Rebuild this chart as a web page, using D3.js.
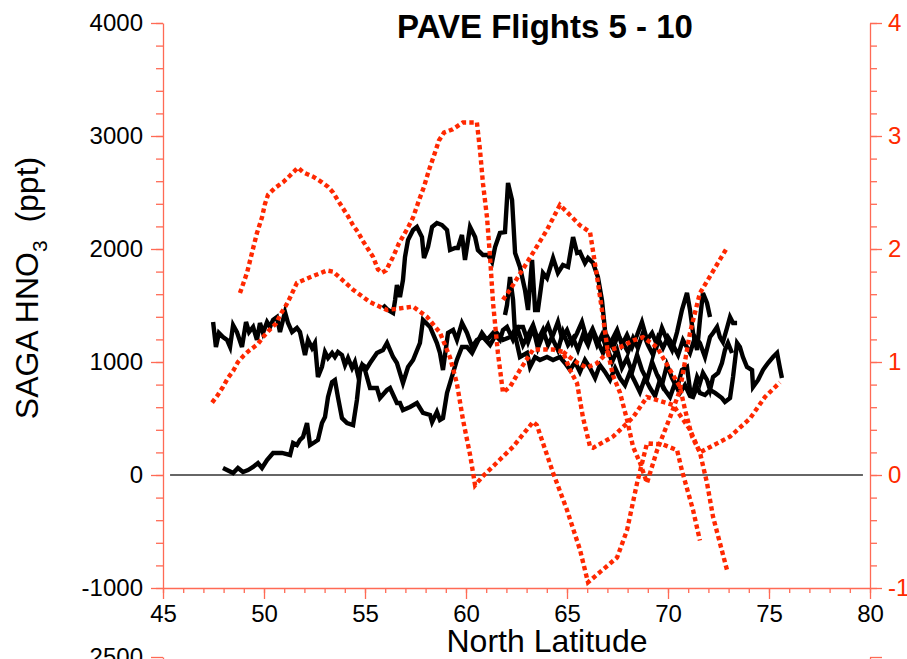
<!DOCTYPE html>
<meta charset="utf-8">
<head>
<title>PAVE Flights 5 - 10</title>
<script src="https://cdnjs.cloudflare.com/ajax/libs/d3/7.8.5/d3.min.js"></script>
<style>
  body { margin: 0; background: #fff; }
  svg text { font-family: "Liberation Sans", Arial, Helvetica, sans-serif; }
  .flight { fill: none; stroke: #000; stroke-width: 4.4px; }
  .ratio { fill: none; stroke: #ff2800; stroke-width: 4.4px; stroke-dasharray: 4.4,3.2; }
  .zero { stroke: #333; stroke-width: 1.3px; }
</style>
</head>
<body>
<script>

// SAGA HNO3 (ppt) vs north latitude, solid black, left axis
var hno3A = [[47.48,1354],[47.62,1133],[47.77,1257],[47.97,1221],[48.17,1195],[48.32,1133],[48.47,1327],[48.66,1265],[48.91,1133],[49.11,1354],[49.26,1265],[49.46,1310],[49.65,1195],[49.80,1345],[49.95,1257],[50.15,1354],[50.30,1310],[50.45,1372],[50.64,1398],[50.79,1265],[51.04,1442],[51.19,1345],[51.39,1265],[51.63,1301],[51.78,1265],[52.03,1062],[52.18,1195],[52.38,1124],[52.52,1168],[52.67,867],[52.87,956],[53.02,1088],[53.17,1035],[53.37,1080],[53.51,1044],[53.66,1088],[53.86,1062],[54.01,973],[54.16,1035],[54.36,947],[54.50,1000],[54.65,885],[54.85,973],[55.00,929],[55.25,770],[55.59,770],[55.74,681],[56.09,752],[56.24,770],[56.58,637],[56.73,637],[56.88,575],[57.23,602],[57.57,637],[57.87,549],[58.22,531],[58.32,469],[58.56,558],[58.71,487],[58.86,504],[59.06,726],[59.36,903],[59.55,1018],[59.80,1133],[60.05,1133],[60.30,1080],[60.54,1168],[60.79,1257],[61.04,1195],[61.34,1257],[61.68,1195],[61.83,1283],[62.03,1310],[62.33,1195],[62.57,1283],[62.82,1150],[63.07,1239],[63.32,1327],[63.56,1195],[63.81,1283],[64.06,1150],[64.31,1239],[64.55,1354],[64.75,1212],[65.00,1283],[65.25,1168],[65.50,1257],[65.74,1354],[65.99,1195],[66.24,1283],[66.49,1150],[66.73,1239],[66.98,1106],[67.23,1195],[67.48,1283],[67.72,1150],[67.97,1239],[68.22,1133],[68.47,1239],[68.71,1354],[68.96,1195],[69.21,1257],[69.46,1150],[69.70,1301],[69.95,1195],[70.20,1106],[70.45,1265],[70.69,1460],[70.94,1611],[71.09,1460],[71.24,1257],[71.44,1106],[71.58,1372],[71.73,1611],[71.93,1522],[72.08,1398]];

var hno3B = [[47.97,62],[48.47,18],[48.71,62],[48.96,27],[49.21,44],[49.46,71],[49.70,106],[49.90,62],[50.15,133],[50.45,195],[50.89,195],[51.29,177],[51.44,283],[51.63,265],[51.78,310],[51.93,336],[52.13,460],[52.28,265],[52.52,292],[52.67,310],[52.87,460],[53.02,513],[53.17,690],[53.37,823],[53.51,841],[53.66,690],[53.86,504],[54.11,460],[54.41,442],[54.60,664],[54.75,912],[54.90,973],[55.10,947],[55.25,991],[55.59,1080],[55.89,1106],[56.09,1168],[56.39,1044],[56.58,991],[56.88,814],[57.13,956],[57.38,1018],[57.72,1168],[57.87,1372],[58.22,1310],[58.56,1168],[58.71,1080],[58.86,929],[59.11,1257],[59.36,1283],[59.55,1195],[59.80,1345],[60.05,1257],[60.30,1133],[60.54,1195],[60.84,1221],[61.19,1150],[61.53,1257],[61.83,1195],[62.18,1221],[62.52,1310],[62.82,1310],[63.07,1177],[63.32,1301],[63.56,1124],[63.81,1239],[64.06,1327],[64.31,1195],[64.55,1106],[64.80,1265],[65.05,1150],[65.30,1212],[65.54,1106],[65.79,1239],[66.04,1150],[66.29,1283],[66.53,1177],[66.78,1080],[67.03,1212],[67.28,1124],[67.52,1239],[67.77,1168],[68.02,1088],[68.27,1212],[68.51,1124],[68.76,1257],[69.01,1150],[69.26,1062],[69.50,1212],[69.75,1124],[70.00,1221],[70.25,1150],[70.50,1062],[70.74,1195],[71.09,1080],[71.34,1221],[71.58,1168],[71.83,1044],[72.08,1221],[72.23,1257],[72.43,1310],[72.57,1221],[72.72,1177],[72.92,1301],[73.07,1398],[73.22,1345],[73.42,1345]];

var hno3C = [[55.89,1504],[56.14,1460],[56.39,1434],[56.49,1549],[56.58,1681],[56.73,1575],[56.88,1726],[56.98,1929],[57.13,2080],[57.38,2168],[57.57,2195],[57.82,2106],[57.92,1920],[58.12,2018],[58.32,2195],[58.56,2230],[58.81,2212],[59.06,2168],[59.21,1991],[59.46,2009],[59.60,2009],[59.80,2124],[59.95,1903],[60.20,2195],[60.45,2106],[60.59,1991],[60.84,1947],[61.09,1947],[61.29,1885],[61.44,2018],[61.68,2142],[61.93,2150],[62.08,2584],[62.28,2434],[62.43,1965],[62.67,1841],[62.92,1637],[63.07,1460],[63.27,1903],[63.42,1460],[63.56,1460],[63.81,1788],[64.01,1743],[64.31,1920],[64.55,1788],[64.80,1858],[65.05,1841],[65.30,2106],[65.50,1965],[65.64,1973],[65.89,1876],[66.04,1920],[66.29,1876],[66.53,1752],[66.73,1549],[66.88,1283],[67.03,1106],[67.23,1000],[67.48,1106],[67.72,947],[67.97,1035],[68.22,912],[68.47,1062],[68.71,929],[68.96,841],[69.21,1000],[69.46,885],[69.70,796],[69.95,973],[70.20,858],[70.45,770],[70.69,929],[70.94,956],[71.09,752],[71.24,726],[71.44,867],[71.58,814],[71.73,903],[71.93,841],[72.08,752],[72.23,867],[72.48,903],[72.67,991],[72.82,1106],[72.97,1168],[73.17,1080]];

var hno3D = [[61.93,1416],[62.03,1504],[62.18,1752],[62.33,1549],[62.43,1239],[62.67,1044],[63.02,1080],[63.17,956],[63.42,1044],[63.66,1018],[64.01,1044],[64.31,1018],[64.65,1044],[64.90,991],[65.15,929],[65.40,1000],[65.64,912],[65.89,1018],[66.14,947],[66.39,858],[66.63,973],[66.88,912],[67.13,841],[67.38,947],[67.62,858],[67.87,796],[68.12,912],[68.37,823],[68.61,734],[68.86,858],[69.11,770],[69.36,699],[69.60,841],[69.85,752],[70.10,690],[70.35,814],[70.59,726],[70.84,796],[71.09,699],[71.24,690],[71.44,779],[71.58,726],[71.83,708],[72.08,752],[72.33,726],[72.67,681],[72.82,646],[73.07,681],[73.22,867],[73.42,1168],[73.56,1133],[73.71,1044],[73.91,956],[74.16,929],[74.21,779],[74.46,841],[74.70,929],[74.95,991],[75.20,1044],[75.40,1080],[75.54,947],[75.64,858]];

// red dotted traces, right axis
var ratioA = [[47.43,0.64],[47.72,0.71],[47.97,0.78],[48.22,0.86],[48.47,0.92],[48.71,1.00],[49.01,1.06],[49.26,1.10],[49.70,1.16],[49.95,1.22],[50.25,1.28],[50.59,1.34],[50.84,1.43],[51.09,1.50],[51.29,1.57],[51.63,1.70],[52.28,1.75],[53.12,1.81],[53.42,1.80],[54.41,1.64],[55.25,1.53],[56.09,1.46],[57.38,1.49],[58.07,1.40],[58.71,1.26],[59.21,1.04],[59.55,0.81],[59.85,0.49],[60.20,0.18],[60.45,-0.09],[60.84,-0.01],[61.53,0.11],[62.33,0.25],[63.32,0.47],[63.51,0.44],[64.31,0.02],[65.00,-0.31],[65.64,-0.66],[66.04,-0.95],[66.63,-0.86],[67.48,-0.73],[67.97,-0.49],[68.47,-0.07],[68.96,0.28],[69.75,0.27],[70.45,0.22],[70.69,0.04],[71.24,-0.31],[71.58,-0.58]];

var ratioB = [[48.81,1.61],[49.16,1.79],[49.41,1.97],[49.65,2.14],[49.90,2.28],[50.05,2.40],[50.20,2.48],[50.54,2.54],[50.94,2.59],[51.29,2.65],[51.68,2.72],[51.93,2.68],[52.43,2.64],[52.87,2.59],[53.17,2.55],[53.42,2.50],[53.66,2.43],[53.91,2.36],[54.16,2.29],[54.41,2.21],[54.65,2.15],[54.90,2.07],[55.15,2.00],[55.40,1.93],[55.64,1.82],[55.84,1.79],[56.04,1.81],[56.39,1.93],[56.68,2.05],[57.13,2.19],[57.38,2.28],[57.67,2.43],[57.92,2.55],[58.17,2.70],[58.42,2.83],[58.66,2.96],[58.91,3.03],[59.35,3.06],[59.85,3.12],[60.35,3.12],[60.54,3.12],[60.69,2.88],[60.84,2.58],[61.04,2.28],[61.19,1.93],[61.34,1.52],[61.58,1.08],[61.83,0.73],[62.18,0.78],[62.67,0.93],[63.32,1.11],[64.31,1.11],[64.80,1.09],[65.15,0.93],[65.50,0.81],[65.79,0.51],[66.14,0.25],[66.29,0.24],[67.28,0.34],[68.27,0.51],[68.96,0.69],[70.25,0.62],[71.09,0.40],[71.58,0.20],[72.43,0.28],[73.07,0.34],[74.06,0.50],[74.80,0.69],[75.54,0.82]];

var ratioC = [[61.83,1.55],[62.18,1.64],[63.02,1.88],[64.01,2.17],[64.65,2.39],[65.64,2.21],[66.14,2.15],[66.49,1.75],[66.78,1.40],[67.03,1.08],[67.28,0.88],[67.62,0.73],[67.97,0.49],[68.27,0.25],[68.61,0.11],[68.96,-0.07],[69.46,0.22],[70.10,0.51],[70.59,0.75],[71.09,1.26],[71.58,1.61],[72.92,2.01]];

var ratioD = [[64.80,1.09],[65.15,1.04],[65.54,0.99],[65.99,0.95],[66.49,0.99],[67.13,1.11],[67.62,1.13],[68.27,1.19],[68.76,1.22],[69.46,1.13],[70.10,0.93],[70.59,0.78],[70.84,0.58],[71.19,0.34],[71.58,0.20],[71.93,-0.07],[72.23,-0.37],[72.92,-0.84]];

var flights = [hno3A, hno3B, hno3C, hno3D];
var ratios = [ratioA, ratioB, ratioC, ratioD];

var latTicks = [45, 50, 55, 60, 65, 70, 75, 80];
var pptTicks = [-1000, 0, 1000, 2000, 3000, 4000];
var rightTicks = [-1, 0, 1, 2, 3, 4];

var axisColor = "#ff6a55", redText = "#ff2a00";
var width = 907, height = 659;
var plain = function(d) { return String(d); };   // keep hyphen minus, no thousands comma

var svg = d3.select("body").append("svg")
    .attr("width", width)
    .attr("height", height);

var x = d3.scaleLinear().domain([45, 80]).range([163, 870]);
var yL = d3.scaleLinear().domain([-1000, 4000]).range([588, 23]);
var yR = d3.scaleLinear().domain([-1, 4]).range([588, 23]);

function styleAxis(g, color) {
  g.selectAll("path, line").attr("stroke", axisColor).attr("stroke-width", 1.3);
  g.selectAll("text").attr("font-size", 24).attr("fill", color)
    .attr("font-family", "Liberation Sans, Arial, sans-serif");
}

// minor ticks first
svg.append("g").attr("transform", "translate(163,0)")
  .call(d3.axisLeft(yL).tickValues(d3.range(-1000, 4001, 200)).tickSize(7).tickFormat(""))
  .call(function(g) { g.select(".domain").remove(); styleAxis(g); });
svg.append("g").attr("transform", "translate(870,0)")
  .call(d3.axisRight(yR).tickValues(d3.range(-1, 4.001, 0.2)).tickSize(7).tickFormat(""))
  .call(function(g) { g.select(".domain").remove(); styleAxis(g); });
svg.append("g").attr("transform", "translate(0,588)")
  .call(d3.axisBottom(x).tickValues(d3.range(45, 80.5, 1)).tickSize(5).tickFormat(""))
  .call(function(g) { g.select(".domain").remove(); styleAxis(g); });

// major ticks
svg.append("g").attr("transform", "translate(163,0)")
  .call(d3.axisLeft(yL).tickValues(pptTicks).tickSize(12).tickSizeOuter(0).tickPadding(8).tickFormat(plain))
  .call(function(g) { styleAxis(g, "#000"); });
svg.append("g").attr("transform", "translate(870,0)")
  .call(d3.axisRight(yR).tickValues(rightTicks).tickSize(12).tickSizeOuter(0).tickPadding(6).tickFormat(plain))
  .call(function(g) { styleAxis(g, redText); });
svg.append("g").attr("transform", "translate(0,588)")
  .call(d3.axisBottom(x).tickValues(latTicks).tickSize(11).tickSizeOuter(0).tickPadding(6).tickFormat(plain))
  .call(function(g) { styleAxis(g, "#000"); });

// top of the next panel, cut off by the page
var yNext = d3.scaleLinear().domain([-500, 2500]).range([1222, 657]);
svg.append("g").attr("transform", "translate(163,0)")
  .call(d3.axisLeft(yNext).tickValues([2500]).tickSize(12).tickSizeOuter(0).tickPadding(8).tickFormat(plain))
  .call(function(g) { styleAxis(g, "#000"); });
svg.append("g").attr("transform", "translate(870,0)")
  .call(d3.axisRight(yNext).tickValues([2500]).tickSize(12).tickSizeOuter(0).tickFormat(""))
  .call(function(g) { styleAxis(g, redText); });

// zero line
svg.append("line").attr("class", "zero")
  .attr("x1", x(45.35)).attr("x2", x(79.65))
  .attr("y1", yL(0)).attr("y2", yL(0));

var lineL = d3.line().x(function(d) { return x(d[0]); }).y(function(d) { return yL(d[1]); });
var lineR = d3.line().x(function(d) { return x(d[0]); }).y(function(d) { return yR(d[1]); });

svg.selectAll("path.flight").data(flights).enter().append("path")
  .attr("class", "flight").attr("d", lineL);

svg.selectAll("path.ratio").data(ratios).enter().append("path")
  .attr("class", "ratio").attr("d", lineR);

// titles
svg.append("text")
  .attr("x", 545).attr("y", 38)
  .attr("text-anchor", "middle")
  .attr("font-size", 33).attr("font-weight", "bold")
  .text("PAVE Flights 5 - 10");

svg.append("text")
  .attr("x", 547).attr("y", 652)
  .attr("text-anchor", "middle")
  .attr("font-size", 32)
  .text("North Latitude");

var ylab = svg.append("text")
  .attr("transform", "translate(38,288) rotate(-90)")
  .attr("text-anchor", "middle")
  .attr("font-size", 32);
ylab.append("tspan").text("SAGA HNO");
ylab.append("tspan").attr("font-size", 21).attr("dy", 9).text("3");
ylab.append("tspan").attr("dy", -9).text("\u00a0\u00a0(ppt)");

</script>
</body>
